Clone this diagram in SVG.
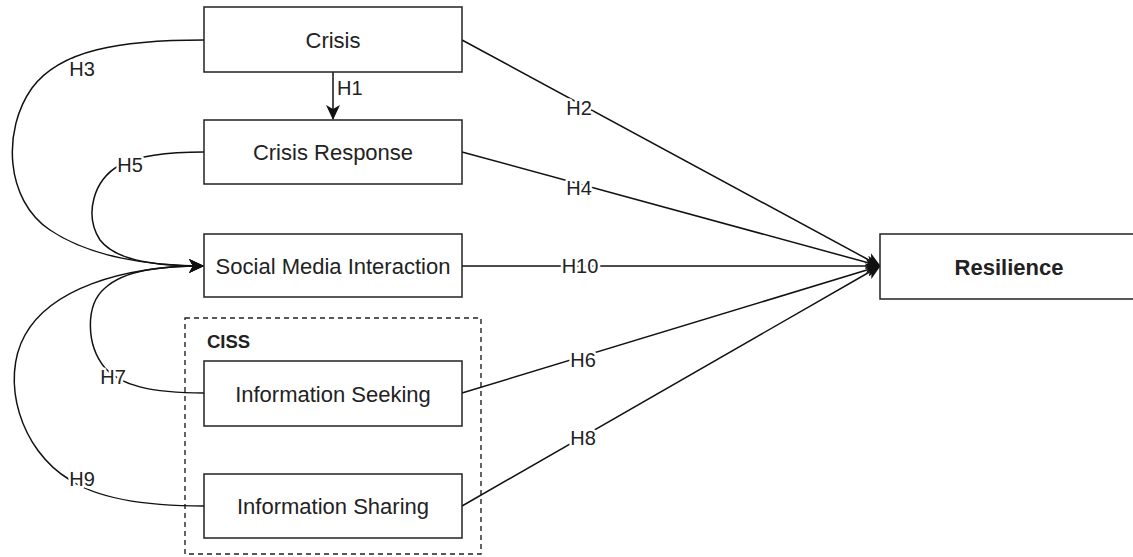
<svg xmlns="http://www.w3.org/2000/svg" width="1133" height="557" viewBox="0 0 1133 557">
<style>
.box{fill:#fff;stroke:#222;stroke-width:1.5}
.nt{font-family:"Liberation Sans",Arial,sans-serif;font-size:22px;fill:#222;text-anchor:middle}
.b{font-weight:bold}
.edge{fill:none;stroke:#111;stroke-width:1.5}
.lbl{font-family:"Liberation Sans",Arial,sans-serif;font-size:20px;fill:#222;text-anchor:middle;stroke:#fff;stroke-width:5;paint-order:stroke;stroke-linejoin:round}
.lbl2{font-family:"Liberation Sans",Arial,sans-serif;font-size:20px;fill:#222}
</style>
<defs>
<marker id="arr" markerUnits="userSpaceOnUse" viewBox="0 0 15 14" markerWidth="15" markerHeight="14" refX="14" refY="7" orient="auto">
<path d="M0,0 L15,7 L0,14 L4,7 Z" fill="#111"/>
</marker>
</defs>
<rect width="1133" height="557" fill="#fff"/>
<g id="ciss-group">
<rect x="185" y="318" width="296" height="236" fill="none" stroke="#222" stroke-width="1.4" stroke-dasharray="5 4"/>
<text x="207" y="348" class="nt b" style="font-size:18.5px;text-anchor:start">CISS</text>
</g>
<g id="connectors">
<path class="edge" d="M333,72 L333,119" marker-end="url(#arr)"/>
<path class="edge" d="M204,40 C 120,40 60,50 32,88 C 2,130 5,200 50,230 C 90,257 150,266 203,266" marker-end="url(#arr)"/>
<path class="edge" d="M204,152 C 170,152 140,155 120,165 C 93,180 84,215 100,240 C 117,262 160,266 203,266" marker-end="url(#arr)"/>
<path class="edge" d="M204,393 C 150,393 120,385 105,368 C 86,345 85,305 105,288 C 125,270 160,266 203,266" marker-end="url(#arr)"/>
<path class="edge" d="M204,506 C 150,506 100,500 70,480 C 20,450 0,380 25,335 C 50,290 120,266 203,266" marker-end="url(#arr)"/>
<path class="edge" d="M462,40 L880,266" marker-end="url(#arr)"/>
<path class="edge" d="M462,152 L880,266" marker-end="url(#arr)"/>
<path class="edge" d="M462,266 L880,266" marker-end="url(#arr)"/>
<path class="edge" d="M462,393 L880,266" marker-end="url(#arr)"/>
<path class="edge" d="M462,506 L880,266" marker-end="url(#arr)"/>
<text class="lbl2" x="337" y="95">H1</text>
<text class="lbl" x="82" y="76">H3</text>
<text class="lbl" x="130" y="172">H5</text>
<text class="lbl" x="113" y="384">H7</text>
<text class="lbl" x="82" y="486">H9</text>
<text class="lbl" x="579" y="115">H2</text>
<text class="lbl" x="579" y="195">H4</text>
<text class="lbl" x="580" y="273">H10</text>
<text class="lbl" x="583" y="367">H6</text>
<text class="lbl" x="583" y="445">H8</text>
</g>
<g id="crisis"><rect class="box" x="204" y="7" width="258" height="65"/><text class="nt" x="333" y="47.5">Crisis</text></g>
<g id="crisis-response"><rect class="box" x="204" y="120" width="258" height="64"/><text class="nt" x="333" y="160">Crisis Response</text></g>
<g id="social-media-interaction"><rect class="box" x="204" y="234" width="258" height="63"/><text class="nt" x="333" y="273.5">Social Media Interaction</text></g>
<g id="information-seeking"><rect class="box" x="204" y="361" width="258" height="65"/><text class="nt" x="333" y="401.5">Information Seeking</text></g>
<g id="information-sharing"><rect class="box" x="204" y="474" width="258" height="64"/><text class="nt" x="333" y="514">Information Sharing</text></g>
<g id="resilience"><rect class="box" x="880" y="234" width="258" height="65"/><text class="nt b" x="1009" y="274.5">Resilience</text></g>
</svg>
